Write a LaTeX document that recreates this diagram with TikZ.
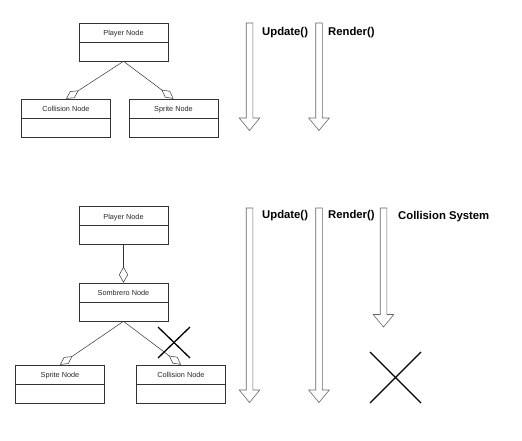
\documentclass[tikz,border=0pt]{standalone}
\usepackage{fontspec}
\setmainfont{Liberation Sans}
\usetikzlibrary{arrows.meta}
\tikzset{
  classbox/.style={draw=black!80, line width=0.6pt, minimum width=89pt, minimum height=38pt,
    inner ysep=0pt, text height=12.5pt, text depth=25.5pt, font=\fontsize{7.3}{8}\selectfont, text=black!85,
    path picture={\draw[black!80, line width=0.6pt] (path picture bounding box.west) -- (path picture bounding box.east);}},
  aggr/.style={draw=black!80, line width=0.5pt, -{Diamond[open, length=15pt, width=8pt]}},
  calltext/.style={anchor=west, inner sep=0pt, font=\fontsize{11.3}{13}\bfseries},
  blockarrow/.style={draw=black!60, line width=0.6pt, fill=white},
  crossout/.style={draw=black, line width=1.3pt}
}
% hollow block arrow pointing down: x, top, bottom
\newcommand{\callarrow}[3]{
  \draw[blockarrow] (#1-3.3,#2) -- (#1+3.3,#2) -- (#1+3.3,#3-12.5) -- (#1+10.3,#3-12.5)
    -- (#1,#3) -- (#1-10.3,#3-12.5) -- (#1-3.3,#3-12.5) -- cycle;
}
\begin{document}
\begin{tikzpicture}[x=1pt, y=-1pt]
  \useasboundingbox (0,0) rectangle (522,441);
  % before
  \node[classbox] (player1) at (123.5,42) {Player Node};
  \node[classbox] (collision1) at (66,118) {Collision Node};
  \node[classbox] (sprite1) at (173.5,118) {Sprite Node};
  \draw[aggr] (player1.south) -- (collision1.north);
  \draw[aggr] (player1.south) -- (sprite1.north);
  \callarrow{249.5}{23}{130.5}
  \callarrow{319}{23}{130.5}
  \node[calltext] (update1) at (262,33) {Update()};
  \node[calltext] (render1) at (328,33) {Render()};
  % after
  \node[classbox] (player2) at (123.5,225.5) {Player Node};
  \node[classbox] (sombrero) at (123.5,302) {Sombrero Node};
  \node[classbox] (sprite2) at (60,384) {Sprite Node};
  \node[classbox] (collision2) at (181,384) {Collision Node};
  \draw[aggr, -{Diamond[open, length=16pt, width=9pt]}] (player2.south) -- (sombrero.north);
  \draw[aggr] (sombrero.south) -- (sprite2.north);
  \draw[aggr] (sombrero.south) -- (collision2.north);
  \draw[crossout] (158,327) -- (190,358);
  \draw[crossout] (190,327) -- (158,358);
  \callarrow{249.5}{208}{402.5}
  \callarrow{319}{208}{402.5}
  \callarrow{383.5}{208}{327}
  \node[calltext] (update2) at (262,216) {Update()};
  \node[calltext] (render2) at (328,216) {Render()};
  \node[calltext] (colsys) at (398,216.5) {Collision System};
  \draw[crossout] (370,352) -- (421,403);
  \draw[crossout] (421,352) -- (370,403);
\end{tikzpicture}
\end{document}
